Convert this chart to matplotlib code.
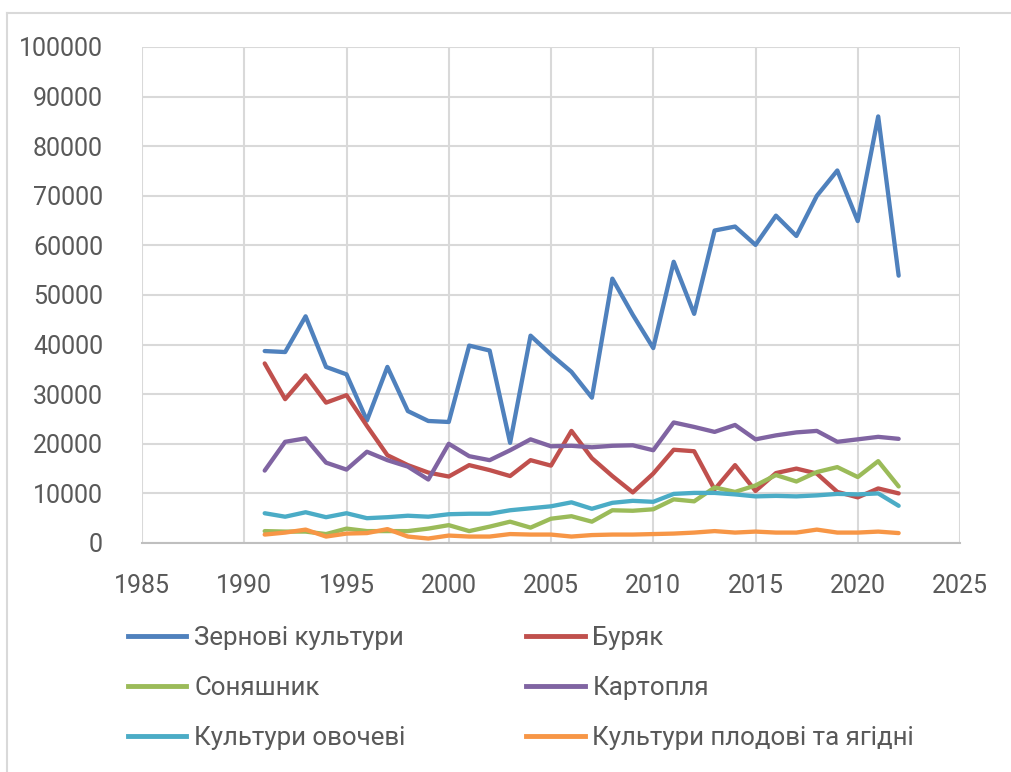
import matplotlib.pyplot as plt
from matplotlib.lines import Line2D

plt.rcParams['font.family'] = ['Roboto', 'DejaVu Sans']

# Роки та значення
years = list(range(1991, 2023))

zernovi = [38700, 38500, 45700, 35500, 34000, 24700, 35500, 26600, 24600, 24400,
           39800, 38800, 20200, 41800, 38000, 34500, 29300, 53300, 46000, 39300,
           56700, 46200, 63000, 63800, 60100, 66000, 61900, 70000, 75100, 64900,
           86000, 53900]

buriak = [36200, 29000, 33800, 28300, 29800, 23600, 17700, 15700, 14200, 13400,
          15700, 14700, 13500, 16700, 15600, 22600, 17100, 13500, 10200, 14000,
          18800, 18500, 10800, 15700, 10500, 14100, 15000, 14000, 10300, 9200,
          11000, 10000]

soniashnyk = [2400, 2300, 2300, 1800, 2900, 2400, 2400, 2400, 2900, 3600,
              2400, 3300, 4300, 3100, 4900, 5400, 4300, 6600, 6500, 6800,
              8800, 8400, 11200, 10300, 11600, 13700, 12400, 14300, 15300, 13300,
              16500, 11400]

kartoplia = [14600, 20400, 21100, 16200, 14800, 18400, 16700, 15400, 12800, 20000,
             17500, 16700, 18700, 20900, 19500, 19600, 19300, 19600, 19700, 18700,
             24300, 23400, 22400, 23800, 20900, 21700, 22300, 22600, 20400, 20900,
             21400, 21000]

ovochevi = [6000, 5300, 6200, 5200, 6000, 5000, 5200, 5500, 5300, 5800,
            5900, 5900, 6600, 7000, 7400, 8200, 6900, 8100, 8500, 8300,
            9900, 10100, 10100, 9800, 9400, 9500, 9400, 9600, 9900, 9800,
            10000, 7500]

plodovi = [1700, 2100, 2700, 1300, 1900, 2000, 2800, 1300, 900, 1500,
           1300, 1300, 1800, 1700, 1700, 1300, 1600, 1700, 1700, 1800,
           1900, 2100, 2400, 2100, 2300, 2100, 2100, 2700, 2100, 2100,
           2300, 2000]

series = [
    ('Зернові культури', zernovi, '#4F81BD'),
    ('Буряк', buriak, '#C0504D'),
    ('Соняшник', soniashnyk, '#9BBB59'),
    ('Картопля', kartoplia, '#8064A2'),
    ('Культури овочеві', ovochevi, '#4BACC6'),
    ('Культури плодові та ягідні', plodovi, '#F79646'),
]

fig = plt.figure(figsize=(10.11, 7.72), dpi=100)
ax = fig.add_axes([142 / 1011, 1 - 543 / 772, (960 - 142) / 1011, (543 - 47) / 772])

for name, vals, col in series:
    ax.plot(years, vals, color=col, linewidth=3.1, label=name,
            solid_capstyle='round', solid_joinstyle='round')

ax.set_xlim(1985, 2025)
ax.set_ylim(0, 100000)
ax.set_xticks(range(1985, 2026, 5))
ax.set_yticks(range(0, 100001, 10000))
ax.grid(True, color='#d9d9d9', linewidth=1.5)
ax.set_axisbelow(True)
for s in ['left', 'top', 'right']:
    ax.spines[s].set_visible(False)
ax.spines['bottom'].set_color('#bfbfbf')
ax.spines['bottom'].set_linewidth(1.5)
ax.tick_params(length=0, labelsize=18, labelcolor='#595959')
ax.tick_params(axis='y', pad=28)
ax.tick_params(axis='x', pad=22)

# Легенда: порядок по рядках (2 стовпці)
order = [0, 2, 4, 1, 3, 5]
handles = [Line2D([0], [0], color=series[i][2], linewidth=3.5) for i in order]
labels = [series[i][0] for i in order]
fig.legend(handles, labels, ncol=2, loc='upper left',
           bbox_to_anchor=(105 / 1011, 1 - 603 / 772), frameon=False,
           fontsize=18.6, labelcolor='#595959', handlelength=2.25,
           handletextpad=0.3, columnspacing=4.68, labelspacing=1.0)

# Рамка області діаграми
fig.add_artist(Line2D([7 / 1011, 7 / 1011], [0, 1 - 13 / 772],
                      transform=fig.transFigure, color='#d9d9d9', linewidth=1.5))
fig.add_artist(Line2D([7 / 1011, 1], [1 - 13 / 772, 1 - 13 / 772],
                      transform=fig.transFigure, color='#d9d9d9', linewidth=1.5))

fig.savefig('out.png', dpi=100)
